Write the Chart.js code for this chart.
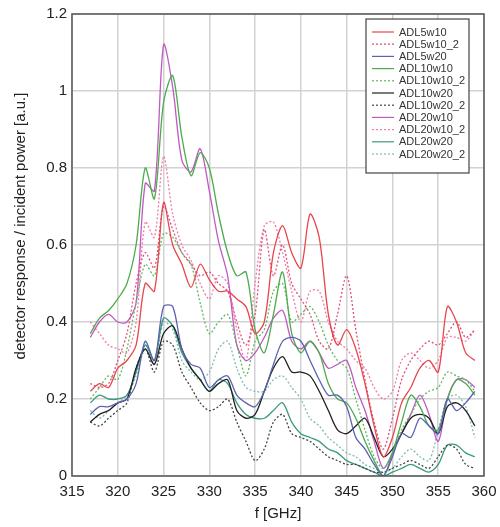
<!DOCTYPE html>
<html>
<head>
<meta charset="utf-8">
<script src="https://cdn.jsdelivr.net/npm/chart.js@4/dist/chart.umd.min.js"></script>
<style>
  html, body { margin: 0; padding: 0; background: #fff; }
  #wrap { width: 500px; height: 527px; }
</style>
</head>
<body>
<div id="wrap"><canvas id="spectrumChart" width="500" height="527"></canvas></div>
<script>
// frequency points [GHz]
const freqs = [317,318,319,320,321,322,323,324,325,326,327,328,329,330,331,332,333,334,335,336,337,338,
               339,340,341,342,343,344,345,346,347,348,349,350,351,352,353,354,355,356,357,358,359];

const xTicks = [315,320,325,330,335,340,345,350,355,360];
const yTicks = [0,0.2,0.4,0.6,0.8,1,1.2];
const yTitle = 'detector response / incident power [a.u.]';

const seriesNames = ['ADL5w10','ADL5w10_2','ADL5w20','ADL10w10','ADL10w10_2','ADL10w20',
                     'ADL10w20_2','ADL20w10','ADL20w10_2','ADL20w20','ADL20w20_2'];

const adl5w10 = [0.22,0.24,0.23,0.28,0.30,0.34,0.50,0.48,0.71,0.60,0.55,0.49,0.55,0.51,0.48,0.48,0.46,0.44,0.37,0.40,0.58,0.65,
                 0.58,0.54,0.68,0.62,0.42,0.34,0.38,0.33,0.24,0.13,0.05,0.10,0.19,0.23,0.28,0.30,0.27,0.44,0.40,0.32,0.30];
const adl5w10_2 = [0.24,0.23,0.24,0.30,0.37,0.50,0.58,0.54,0.70,0.64,0.58,0.55,0.52,0.53,0.50,0.48,0.40,0.34,0.42,0.64,0.52,0.60,
                   0.50,0.46,0.42,0.35,0.33,0.42,0.52,0.38,0.25,0.14,0.07,0.15,0.25,0.30,0.33,0.35,0.34,0.37,0.40,0.36,0.38];
const adl5w20 = [0.16,0.18,0.18,0.19,0.20,0.24,0.35,0.30,0.44,0.44,0.33,0.29,0.28,0.23,0.25,0.26,0.21,0.19,0.18,0.22,0.29,0.35,
                 0.36,0.35,0.30,0.25,0.21,0.21,0.18,0.10,0.07,0.03,0.00,0.05,0.11,0.10,0.15,0.13,0.11,0.20,0.17,0.19,0.22];
const adl10w10 = [0.37,0.41,0.43,0.46,0.50,0.60,0.80,0.72,0.97,1.04,0.88,0.78,0.84,0.80,0.68,0.58,0.52,0.53,0.38,0.32,0.42,0.53,
                  0.37,0.32,0.35,0.32,0.24,0.20,0.19,0.15,0.09,0.04,0.00,0.06,0.14,0.21,0.18,0.13,0.12,0.20,0.25,0.24,0.21];
const adl10w10_2 = [0.20,0.23,0.26,0.25,0.33,0.45,0.55,0.52,0.63,0.62,0.58,0.55,0.45,0.37,0.40,0.42,0.34,0.26,0.35,0.38,0.48,0.50,
                    0.40,0.42,0.44,0.40,0.34,0.30,0.28,0.20,0.12,0.05,0.02,0.06,0.12,0.16,0.20,0.22,0.23,0.27,0.26,0.25,0.22];
const adl10w20 = [0.14,0.16,0.17,0.19,0.20,0.28,0.33,0.29,0.37,0.39,0.33,0.28,0.25,0.22,0.24,0.25,0.17,0.15,0.16,0.22,0.28,0.31,
                  0.27,0.27,0.26,0.22,0.17,0.12,0.11,0.13,0.15,0.10,0.05,0.07,0.11,0.15,0.16,0.15,0.11,0.18,0.19,0.17,0.13];
const adl10w20_2 = [0.14,0.13,0.15,0.17,0.19,0.28,0.33,0.27,0.35,0.34,0.27,0.23,0.19,0.17,0.18,0.20,0.14,0.09,0.04,0.07,0.14,0.16,
                    0.11,0.10,0.09,0.07,0.05,0.04,0.03,0.03,0.02,0.01,0.01,0.02,0.03,0.04,0.03,0.02,0.05,0.08,0.07,0.03,0.02];
const adl20w10 = [0.36,0.40,0.42,0.40,0.40,0.45,0.76,0.74,1.12,1.01,0.82,0.79,0.85,0.74,0.61,0.52,0.34,0.30,0.32,0.36,0.41,0.43,
                  0.35,0.33,0.35,0.32,0.28,0.29,0.30,0.23,0.17,0.09,0.02,0.06,0.11,0.16,0.21,0.16,0.09,0.20,0.25,0.25,0.23];
const adl20w10_2 = [0.40,0.37,0.34,0.33,0.32,0.40,0.66,0.62,0.83,0.68,0.60,0.56,0.50,0.46,0.52,0.50,0.38,0.30,0.50,0.65,0.66,0.58,
                    0.48,0.40,0.48,0.48,0.40,0.35,0.33,0.30,0.28,0.23,0.20,0.22,0.30,0.32,0.30,0.28,0.30,0.36,0.36,0.35,0.38];
const adl20w20 = [0.19,0.21,0.20,0.20,0.21,0.27,0.34,0.30,0.41,0.39,0.32,0.28,0.25,0.22,0.25,0.24,0.19,0.16,0.15,0.15,0.17,0.19,
                  0.14,0.11,0.10,0.09,0.07,0.06,0.04,0.03,0.02,0.01,0.00,0.01,0.02,0.03,0.02,0.01,0.03,0.08,0.08,0.06,0.05];
const adl20w20_2 = [0.17,0.15,0.17,0.19,0.21,0.26,0.33,0.29,0.40,0.38,0.30,0.27,0.25,0.27,0.33,0.35,0.28,0.23,0.22,0.22,0.25,0.26,
                    0.23,0.20,0.15,0.13,0.10,0.08,0.06,0.05,0.03,0.02,0.01,0.02,0.05,0.07,0.05,0.04,0.12,0.20,0.21,0.18,0.10];

const seriesValues = [adl5w10, adl5w10_2, adl5w20, adl10w10, adl10w10_2, adl10w20,
                      adl10w20_2, adl20w10, adl20w10_2, adl20w20, adl20w20_2];
const seriesColors = ['#e8454c','#e0507e','#5a62b0','#4cab4c','#5cb85c','#202020',
                      '#454545','#c058c4','#f07aa8','#3a9a80','#80bab2'];
const seriesDotted = [false,true,false,false,true,false,true,false,true,false,true];

const FONT = 'Arial, "Liberation Sans", sans-serif';

// frame, y title and legend box drawn inside the plot (top right)
const framePlugin = {
  id: 'frameAndLegend',
  afterDraw(chart) {
    const ctx = chart.ctx;
    const a = chart.chartArea;
    ctx.save();
    ctx.strokeStyle = '#555';
    ctx.lineWidth = 1.5;
    ctx.strokeRect(a.left, a.top, a.right - a.left, a.bottom - a.top);

    // y axis title (sits a bit above the plot centre in the original)
    ctx.save();
    ctx.translate(21, 226);
    ctx.rotate(-Math.PI / 2);
    ctx.font = '15px ' + FONT;
    ctx.fillStyle = '#222';
    ctx.textAlign = 'center';
    ctx.textBaseline = 'middle';
    ctx.fillText(yTitle, 0, 0);
    ctx.restore();

    const bx = a.right - 118, by = a.top + 5, bw = 103, bh = 154;
    ctx.fillStyle = '#fff';
    ctx.fillRect(bx, by, bw, bh);
    ctx.strokeStyle = '#444';
    ctx.lineWidth = 1.2;
    ctx.strokeRect(bx, by, bw, bh);

    ctx.font = '11px ' + FONT;
    ctx.textBaseline = 'middle';
    ctx.textAlign = 'left';
    chart.data.datasets.forEach((ds, i) => {
      const y = by + 13 + i * 12.2;
      ctx.beginPath();
      ctx.setLineDash(ds.borderDash || []);
      ctx.strokeStyle = ds.borderColor;
      ctx.lineWidth = 1.2;
      ctx.moveTo(bx + 6, y);
      ctx.lineTo(bx + 28, y);
      ctx.stroke();
      ctx.setLineDash([]);
      ctx.fillStyle = '#333';
      ctx.fillText(ds.label, bx + 33, y + 0.5);
    });
    ctx.restore();
  }
};

const datasets = seriesNames.map((name, i) => ({
  label: name,
  data: freqs.map((f, j) => ({ x: f, y: seriesValues[i][j] })),
  borderColor: seriesColors[i],
  borderWidth: 1.3,
  borderDash: seriesDotted[i] ? [2, 2] : [],
  pointRadius: 0,
  tension: 0.3,
  fill: false
}));

new Chart(document.getElementById('spectrumChart'), {
  type: 'line',
  data: { datasets: datasets },
  plugins: [framePlugin],
  options: {
    responsive: false,
    animation: false,
    layout: { padding: { left: 0, right: 16, top: 13, bottom: 0 } },
    plugins: { legend: { display: false }, tooltip: { enabled: false } },
    scales: {
      x: {
        type: 'linear',
        min: 315, max: 360,
        afterBuildTicks: s => { s.ticks = xTicks.map(v => ({ value: v })); },
        afterFit: s => { s.height = 51; s.paddingLeft = 0; s.paddingRight = 0; },
        grid: { color: '#d2d2d2', lineWidth: 1.5, drawTicks: false },
        border: { display: false },
        ticks: { padding: 7, color: '#222', font: { family: FONT, size: 15 } },
        title: { display: true, text: 'f [GHz]', color: '#222', padding: { top: 0, bottom: 4 },
                 font: { family: FONT, size: 15 } }
      },
      y: {
        min: 0, max: 1.2,
        afterBuildTicks: s => { s.ticks = yTicks.map(v => ({ value: v })); },
        afterFit: s => { s.width = 72; },
        grid: { color: '#d2d2d2', lineWidth: 1.5, drawTicks: false },
        border: { display: false },
        ticks: { padding: 5, color: '#222', font: { family: FONT, size: 15 },
                 callback: v => String(+v.toFixed(1)) }
      }
    }
  }
});
</script>
</body>
</html>
